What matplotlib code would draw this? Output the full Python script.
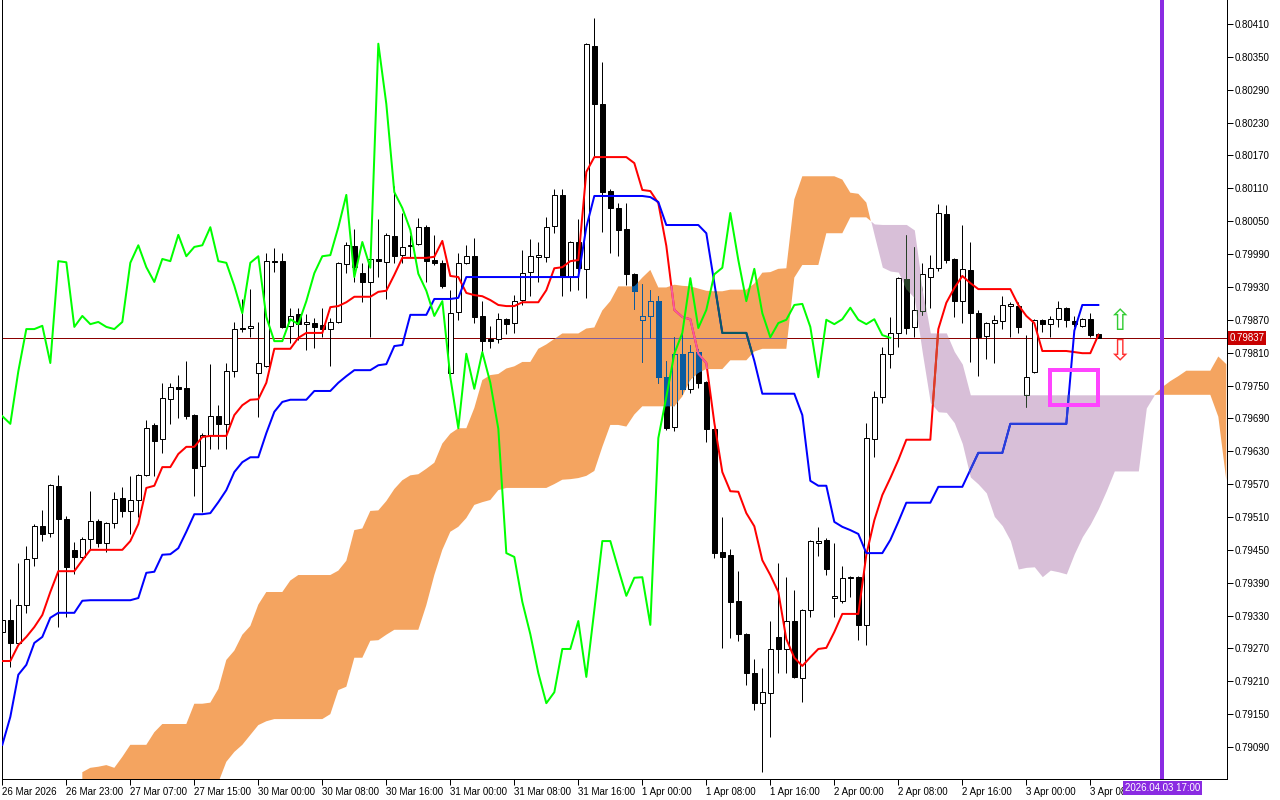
"""
H1 candles with Ichimoku (9/26/52) in the MT4 look: cloud painted in XOR mode,
current-price line, a vertical time marker and a highlight box.

Output: out.png
"""
import numpy as np
import matplotlib

matplotlib.use("Agg")
import matplotlib.pyplot as plt  # noqa: E402
from matplotlib.path import Path  # noqa: E402
from matplotlib.patches import Rectangle  # noqa: E402
from matplotlib import transforms  # noqa: E402

plt.rcParams["font.family"] = ["Liberation Sans", "DejaVu Sans"]

# ---------------------------------------------------------------- data
opens = np.array([
    .79300, .79322, .79280, .79349, .79435, .79493, .79481, .79567, .79506, .79450,
    .79437, .79470, .79503, .79462, .79499, .79545, .79521, .79541, .79587, .79678,
    .79652, .79725, .79747, .79745, .79696, .79603, .79660, .79694, .79680, .79776,
    .79855, .79855, .79773, .79785, .79977, .79977, .79859, .79881, .79862, .79864,
    .79861, .79853, .79866, .79972, .80005, .79955, .79939, .79981, .79975, .80023,
    .79988, .80005, .80008, .80039, .79979, .79974, .79773, .79884, .79974, .79986,
    .79877, .79835, .79835, .79871, .79864, .79906, .79957, .79985, .79985, .80041,
    .80098, .79948, .80012, .79963, .80370, .80264, .80105, .80074, .80036, .79954,
    .79870, .79877, .79904, .79765, .79674, .79808, .79744, .79811, .79756, .79671,
    .79446, .79441, .79357, .79296, .79225, .79170, .79189, .79291, .79269, .79320,
    .79216, .79340, .79462, .79468, .79362, .79357, .79398, .79400, .79313, .79652,
    .79729, .79808, .79846, .79944, .79857, .79886, .79948, .79965, .80063, .79981,
    .79904, .79961, .79882, .79840, .79864, .79868, .79895, .79895, .79733, .79775,
    .79870, .79862, .79871, .79892, .79868, .79859, .79871, .79844,
])
highs = np.array([
    .79336, .79360, .79426, .79457, .79497, .79523, .79570, .79587, .79512, .79464,
    .79473, .79557, .79506, .79501, .79556, .79565, .79585, .79589, .79687, .79682,
    .79755, .79755, .79769, .79795, .79698, .79663, .79789, .79714, .79791, .79866,
    .79908, .79926, .79866, .79992, .80001, .79992, .79892, .79892, .79881, .79873,
    .79892, .79873, .79976, .80012, .80036, .79974, .79983, .80054, .80028, .80114,
    .80065, .80025, .80056, .80043, .80025, .79979, .79924, .79992, .80006, .80019,
    .79904, .79859, .79882, .79873, .79915, .79997, .80018, .80012, .80058, .80109,
    .80109, .80014, .80054, .80375, .80421, .80341, .80109, .80083, .80083, .79956,
    .79935, .79924, .79913, .79795, .79838, .79844, .79824, .79817, .79758, .79672,
    .79510, .79451, .79411, .79298, .79251, .79234, .79320, .79426, .79400, .79377,
    .79342, .79468, .79492, .79472, .79462, .79420, .79403, .79403, .79682, .79740,
    .79820, .79875, .79948, .80025, .80003, .79974, .79988, .80081, .80080, .79983,
    .80043, .80012, .79888, .79866, .79879, .79913, .79902, .79902, .79842, .79872,
    .79872, .79877, .79904, .79894, .79877, .79873, .79882, .79846,
])
lows = np.array([
    .79285, .79236, .79276, .79335, .79420, .79466, .79473, .79309, .79327, .79406,
    .79431, .79450, .79455, .79446, .79490, .79510, .79479, .79510, .79585, .79585,
    .79627, .79680, .79691, .79689, .79548, .79519, .79634, .79634, .79634, .79765,
    .79848, .79838, .79692, .79783, .79957, .79855, .79828, .79833, .79815, .79819,
    .79838, .79785, .79864, .79955, .79939, .79902, .79838, .79948, .79908, .79974,
    .79974, .79985, .80006, .79939, .79970, .79928, .79769, .79870, .79972, .79864,
    .79811, .79819, .79828, .79844, .79846, .79897, .79913, .79939, .79975, .80028,
    .79913, .79923, .79924, .79910, .80167, .80030, .79992, .79986, .79934, .79890,
    .79793, .79837, .79755, .79669, .79667, .79735, .79736, .79745, .79647, .79435,
    .79271, .79289, .79284, .79203, .79158, .79044, .79108, .79225, .79225, .79216,
    .79172, .79327, .79439, .79404, .79327, .79353, .79364, .79285, .79276, .79619,
    .79718, .79782, .79820, .79844, .79838, .79879, .79892, .79959, .79974, .79875,
    .79864, .79793, .79767, .79798, .79791, .79853, .79838, .79846, .79711, .79773,
    .79848, .79838, .79857, .79857, .79857, .79857, .79838, .79836,
])
closes = np.array([
    .79322, .79280, .79349, .79433, .79493, .79479, .79568, .79506, .79419, .79437,
    .79470, .79503, .79462, .79499, .79543, .79521, .79541, .79587, .79672, .79649,
    .79727, .79747, .79744, .79694, .79599, .79660, .79694, .79680, .79776, .79853,
    .79853, .79859, .79791, .79977, .79975, .79857, .79877, .79862, .79866, .79857,
    .79853, .79866, .79974, .80006, .79966, .79939, .79981, .79977, .80025, .79986,
    .80003, .80006, .80039, .79977, .79974, .79932, .79882, .79974, .79986, .79875,
    .79831, .79831, .79871, .79862, .79904, .79955, .79986, .79988, .80039, .80098,
    .79948, .80012, .79965, .80374, .80264, .80103, .80074, .80034, .79954, .79923,
    .79877, .79904, .79765, .79672, .79808, .79744, .79811, .79755, .79671, .79444,
    .79437, .79355, .79296, .79225, .79170, .79190, .79269, .79269, .79320, .79218,
    .79340, .79466, .79466, .79415, .79366, .79399, .79400, .79313, .79654, .79729,
    .79808, .79846, .79946, .79855, .79888, .79953, .79965, .80065, .79979, .79904,
    .79963, .79882, .79838, .79864, .79870, .79897, .79899, .79857, .79765, .79870,
    .79862, .79871, .79892, .79870, .79862, .79871, .79842, .79837,
])
tenkan = np.array([
    .79247, .79247, .79276, .79291, .79309, .79331, .79373, .79411, .79411, .79411,
    .79431, .79450, .79450, .79450, .79450, .79450, .79466, .79497, .79563, .79567,
    .79601, .79601, .79625, .79638, .79638, .79656, .79658, .79658, .79658, .79696,
    .79714, .79724, .79725, .79755, .79817, .79817, .79817, .79837, .79846, .79846,
    .79846, .79893, .79895, .79902, .79912, .79912, .79912, .79921, .79923, .79952,
    .79983, .79983, .79983, .79983, .79985, .80014, .79950, .79948, .79919, .79915,
    .79913, .79906, .79897, .79895, .79895, .79902, .79902, .79902, .79924, .79964,
    .79966, .79977, .79979, .80140, .80167, .80167, .80167, .80167, .80167, .80156,
    .80107, .80105, .80083, .80005, .79888, .79875, .79871, .79808, .79791, .79682,
    .79592, .79557, .79556, .79517, .79493, .79431, .79404, .79373, .79287, .79253,
    .79238, .79254, .79269, .79271, .79300, .79333, .79333, .79333, .79441, .79504,
    .79550, .79581, .79614, .79651, .79651, .79651, .79651, .79853, .79901, .79928,
    .79950, .79937, .79926, .79926, .79926, .79926, .79926, .79897, .79877, .79864,
    .79813, .79813, .79813, .79813, .79811, .79809, .79809, .79842,
])
kijun = np.array([
    .79094, .79145, .79222, .79240, .79280, .79291, .79326, .79335, .79335, .79335,
    .79357, .79358, .79358, .79358, .79358, .79358, .79358, .79362, .79408, .79410,
    .79441, .79442, .79453, .79483, .79515, .79515, .79517, .79537, .79559, .79592,
    .79610, .79619, .79619, .79663, .79702, .79720, .79724, .79724, .79724, .79740,
    .79740, .79740, .79755, .79767, .79778, .79778, .79778, .79787, .79789, .79822,
    .79824, .79879, .79879, .79879, .79908, .79908, .79908, .79910, .79948, .79948,
    .79948, .79948, .79948, .79948, .79948, .79948, .79948, .79948, .79948, .79948,
    .79948, .79948, .79948, .80039, .80096, .80096, .80096, .80096, .80096, .80096,
    .80096, .80094, .80085, .80043, .80043, .80043, .80043, .80043, .80028, .79937,
    .79846, .79846, .79846, .79846, .79795, .79735, .79735, .79735, .79735, .79735,
    .79696, .79576, .79567, .79567, .79501, .79492, .79486, .79479, .79444, .79444,
    .79444, .79468, .79501, .79536, .79536, .79536, .79536, .79565, .79565, .79565,
    .79565, .79596, .79627, .79627, .79627, .79627, .79680, .79680, .79680, .79680,
    .79680, .79680, .79680, .79680, .79850, .79897, .79897, .79897,
])
# senkou spans, already displaced 26 bars forward; first value sits on bar 10
span_a = np.array([
    .79044, .79052, .79054, .79057, .79052, .79072, .79094, .79094, .79094, .79117,
    .79132, .79132, .79132, .79132, .79169, .79169, .79171, .79196, .79249, .79266,
    .79295, .79311, .79350, .79373, .79373, .79373, .79394, .79404, .79404, .79404,
    .79404, .79404, .79412, .79430, .79486, .79489, .79521, .79522, .79539, .79561,
    .79577, .79586, .79588, .79598, .79609, .79644, .79662, .79672, .79672, .79709,
    .79760, .79769, .79771, .79781, .79785, .79793, .79793, .79817, .79825, .79835,
    .79845, .79845, .79845, .79854, .79856, .79887, .79904, .79931, .79931, .79931,
    .79947, .79961, .79929, .79929, .79934, .79932, .79931, .79927, .79923, .79922,
    .79922, .79925, .79925, .79925, .79936, .79956, .79957, .79963, .79964, .80090,
    .80132, .80132, .80132, .80132, .80132, .80126, .80102, .80100, .80084, .80024,
    .79966, .79959, .79957, .79926, .79910, .79810, .79719, .79702, .79701, .79682,
    .79644, .79583, .79570, .79554, .79511, .79494, .79467, .79415, .79418, .79419,
    .79401, .79413, .79410, .79406, .79443, .79474, .79497, .79525, .79558, .79594,
    .79594, .79594, .79594, .79709, .79733, .79747, .79758, .79767, .79777, .79777,
    .79777, .79777, .79803, .79789,
])
span_b = np.array([
    .79000, .79000, .79000, .79000, .79000, .79000, .79000, .79000, .79000, .79000,
    .79000, .79000, .79000, .79000, .79000, .79000, .79000, .79025, .79063, .79081,
    .79094, .79112, .79130, .79137, .79141, .79141, .79141, .79141, .79141, .79141,
    .79141, .79150, .79194, .79200, .79253, .79253, .79284, .79285, .79295, .79304,
    .79304, .79304, .79304, .79349, .79404, .79450, .79483, .79492, .79508, .79532,
    .79537, .79541, .79559, .79563, .79563, .79563, .79563, .79563, .79563, .79570,
    .79578, .79579, .79581, .79585, .79594, .79638, .79678, .79678, .79675, .79697,
    .79712, .79712, .79712, .79712, .79712, .79730, .79760, .79773, .79780, .79780,
    .79780, .79796, .79796, .79796, .79812, .79817, .79817, .79817, .79817, .79947,
    .79970, .79970, .79970, .80028, .80028, .80028, .80057, .80057, .80057, .80045,
    .80044, .80044, .80044, .80044, .80034, .79928, .79846, .79846, .79846, .79812,
    .79789, .79733, .79733, .79733, .79733, .79733, .79733, .79733, .79733, .79733,
    .79733, .79733, .79733, .79733, .79733, .79733, .79733, .79733, .79733, .79733,
    .79733, .79733, .79733, .79733, .79733, .79733, .79733, .79733, .79733, .79733,
    .79733, .79733, .79693, .79577,
])
CLOUD_START = 10
SHIFT = 26

time_labels = [
    "26 Mar 2026", "26 Mar 23:00", "27 Mar 07:00", "27 Mar 15:00", "30 Mar 00:00",
    "30 Mar 08:00", "30 Mar 16:00", "31 Mar 00:00", "31 Mar 08:00", "31 Mar 16:00",
    "1 Apr 00:00", "1 Apr 08:00", "1 Apr 16:00", "2 Apr 00:00", "2 Apr 08:00",
    "2 Apr 16:00", "3 Apr 00:00", "3 Apr 08:00",
]
price_ticks = [0.80410 - 0.0006 * k for k in range(23)]
last_price = 0.79837
marker_bar, marker_text = 145, "2026.04.03 17:00"
box_bars, box_prices = (131, 137), (0.79714, 0.79778)

# ---------------------------------------------------------------- style
ORANGE, THISTLE = "#F4A460", "#D8BFD8"
# MT4 paints the cloud in XOR mode: what lies under it changes colour
UNDER_ORANGE = {"black": "#0B5B9F", "red": "#F45B9F", "blue": "#0B5B60", "price": "#805B9F"}
UNDER_THISTLE = {"black": "#274027", "red": "#D84027", "blue": "#2740D8", "price": "#AC4027"}
PX = 0.72  # one pixel in points at dpi 100


def draw_candles(ax, edge, up_face, down_face, z, clip=None):
    x = np.arange(len(opens))
    wicks = ax.vlines(x, lows, highs, colors=edge, lw=1.0 * PX, zorder=z)
    bottom = np.minimum(opens, closes)
    height = np.maximum(np.abs(closes - opens), 0.000004)
    faces = [up_face if c >= o else down_face for o, c in zip(opens, closes)]
    bars = ax.bar(x, height, bottom=bottom, width=0.6, color=faces,
                  edgecolor=edge, lw=1.0 * PX, zorder=z)
    if clip is not None:
        wicks.set_clip_path(clip, ax.transData)
        for b in bars:
            b.set_clip_path(clip, ax.transData)


def main():
    fig = plt.figure(figsize=(12.8, 8.0), dpi=100)
    ax = fig.add_axes([2 / 1280, 21 / 800, 1225 / 1280, 779 / 800])
    ax.set_xlim(-0.04, 153.085)
    ax.set_ylim(0.790316, 0.804538)

    bars = np.arange(len(closes))
    xc = np.arange(CLOUD_START, CLOUD_START + len(span_a))

    # cloud
    up = ax.fill_between(xc, span_a, span_b, where=span_a >= span_b, interpolate=True,
                         color=ORANGE, lw=0, zorder=1)
    dn = ax.fill_between(xc, span_a, span_b, where=span_a < span_b, interpolate=True,
                         color=THISTLE, lw=0, zorder=1)
    clip_up = Path.make_compound_path(*up.get_paths())
    clip_dn = Path.make_compound_path(*dn.get_paths())

    # plain layers
    ax.axhline(last_price, color="#8B0000", lw=PX, zorder=1.5)
    draw_candles(ax, "black", "white", "black", 2)
    ax.plot(bars, tenkan, color="red", lw=2 * PX, zorder=3)
    ax.plot(bars, kijun, color="blue", lw=2 * PX, zorder=3)

    # XOR look inside the cloud
    for clip, col, face in ((clip_up, UNDER_ORANGE, ORANGE), (clip_dn, UNDER_THISTLE, THISTLE)):
        hl = ax.axhline(last_price, color=col["price"], lw=PX, zorder=3.5)
        hl.set_clip_path(clip, ax.transData)
        draw_candles(ax, col["black"], face, col["black"], 4, clip=clip)
        for series, key in ((tenkan, "red"), (kijun, "blue")):
            ln, = ax.plot(bars, series, color=col[key], lw=2 * PX, zorder=5)
            ln.set_clip_path(clip, ax.transData)

    # chikou span sits on top of the cloud
    ax.plot(bars[:-SHIFT], closes[SHIFT:], color="#00FF00", lw=2 * PX, zorder=6)

    # objects
    ax.axvline(marker_bar, color="#8A2BE2", lw=4 * PX, zorder=7)
    ax.add_patch(Rectangle((box_bars[0], box_prices[0]), box_bars[1] - box_bars[0],
                           box_prices[1] - box_prices[0], fill=False,
                           ec="#FF44FF", lw=4 * PX, zorder=7))
    ax.text(139.6, 0.79866, "\u21e7", color="#33CC33", fontsize=21, ha="center",
            va="center", family="DejaVu Sans", zorder=8)
    ax.text(139.6, 0.79813, "\u21e9", color="#FF3030", fontsize=21, ha="center",
            va="center", family="DejaVu Sans", zorder=8)

    # axes furniture
    for s in ("left", "right", "bottom"):
        ax.spines[s].set_linewidth(PX)
    ax.spines["top"].set_visible(False)
    ax.yaxis.tick_right()
    ax.set_yticks(price_ticks)
    ax.set_yticklabels([f"{p:.5f}" for p in price_ticks])
    ax.set_xticks(np.arange(0, len(time_labels) * 8, 8))
    ax.set_xticklabels(time_labels)
    for lab in ax.get_xticklabels():
        lab.set_horizontalalignment("left")
    ax.tick_params(axis="both", direction="out", length=4, width=PX, labelsize=7, pad=1.5)

    ry = transforms.blended_transform_factory(ax.transAxes, ax.transData)
    ax.text(1.002, last_price, f"{last_price:.5f}", transform=ry, ha="left", va="center",
            color="white", fontsize=7, zorder=9,
            bbox=dict(boxstyle="square,pad=0.2", fc="#C80000", ec="none"))
    bx = transforms.blended_transform_factory(ax.transData, ax.transAxes)
    ax.text(marker_bar, -0.0115, marker_text, transform=bx, ha="center", va="center",
            color="white", fontsize=7, zorder=9, clip_on=False,
            bbox=dict(boxstyle="square,pad=0.2", fc="#8A2BE2", ec="none"))

    fig.savefig("out.png", dpi=100, facecolor="white")
    plt.close(fig)


if __name__ == "__main__":
    main()
